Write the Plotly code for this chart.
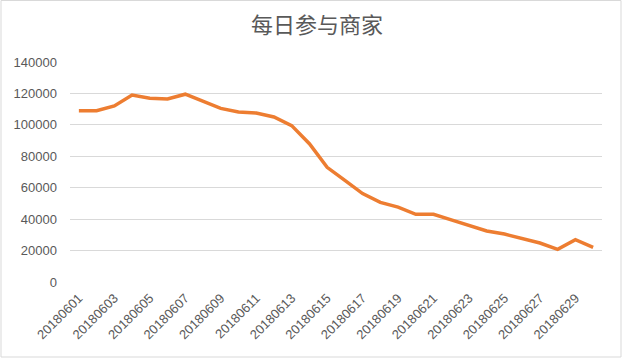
import plotly.graph_objects as go

dates = [f"201806{d:02d}" for d in range(1, 31)]
merchants = [109000, 109000, 112000, 119000, 117000, 116500, 119500, 115000, 110500, 108200,
             107500, 105000, 99500, 88000, 73000, 64700, 56300, 50700, 47700, 43100,
             43100, 39500, 35800, 32500, 30500, 27400, 24800, 20800, 26900, 22100]
y_ticks = [0, 20000, 40000, 60000, 80000, 100000, 120000, 140000]

fig = go.Figure()
fig.add_trace(go.Scatter(
    x=list(range(len(dates))), y=merchants, mode="lines",
    line=dict(color="#ED7D31", width=3.5), hoverinfo="y",
))

fig.update_layout(
    width=624, height=361,
    margin=dict(l=70, r=22, t=62, b=79),
    paper_bgcolor="white", plot_bgcolor="white",
    showlegend=False,
    title=dict(text="每日参与商家", x=0.508, xanchor="center", y=0.93, yanchor="middle",
               font=dict(family="Noto Sans CJK SC", size=22, color="#595959")),
    font=dict(family="Liberation Sans, Arial", size=13, color="#595959"),
    xaxis=dict(
        range=[-0.5, len(dates) - 0.5],
        tickmode="array",
        tickvals=list(range(0, len(dates), 2)),
        ticktext=dates[::2],
        tickangle=-45,
        automargin=False,
        showgrid=False, zeroline=False, showline=False, ticks="",
        ticklabelstandoff=5,
        tickfont=dict(size=13, color="#595959"),
    ),
    yaxis=dict(
        range=[0, 140000],
        tickmode="array", tickvals=y_ticks, ticktext=[str(v) for v in y_ticks],
        automargin=False,
        showgrid=True, gridcolor="#D9D9D9", gridwidth=1,
        zeroline=False, showline=False, ticks="", ticklabelstandoff=12,
        tickfont=dict(size=13, color="#595959"),
    ),
    shapes=[dict(type="rect", xref="paper", yref="paper",
                 x0=-69 / 532, x1=1 + 19 / 532, y0=-75 / 220, y1=1 + 61.5 / 220,
                 line=dict(color="#D9D9D9", width=1), fillcolor="rgba(0,0,0,0)", layer="below")],
)

fig.write_html("out.html", config={"displayModeBar": False},
               post_script="document.body.style.margin='0';")
